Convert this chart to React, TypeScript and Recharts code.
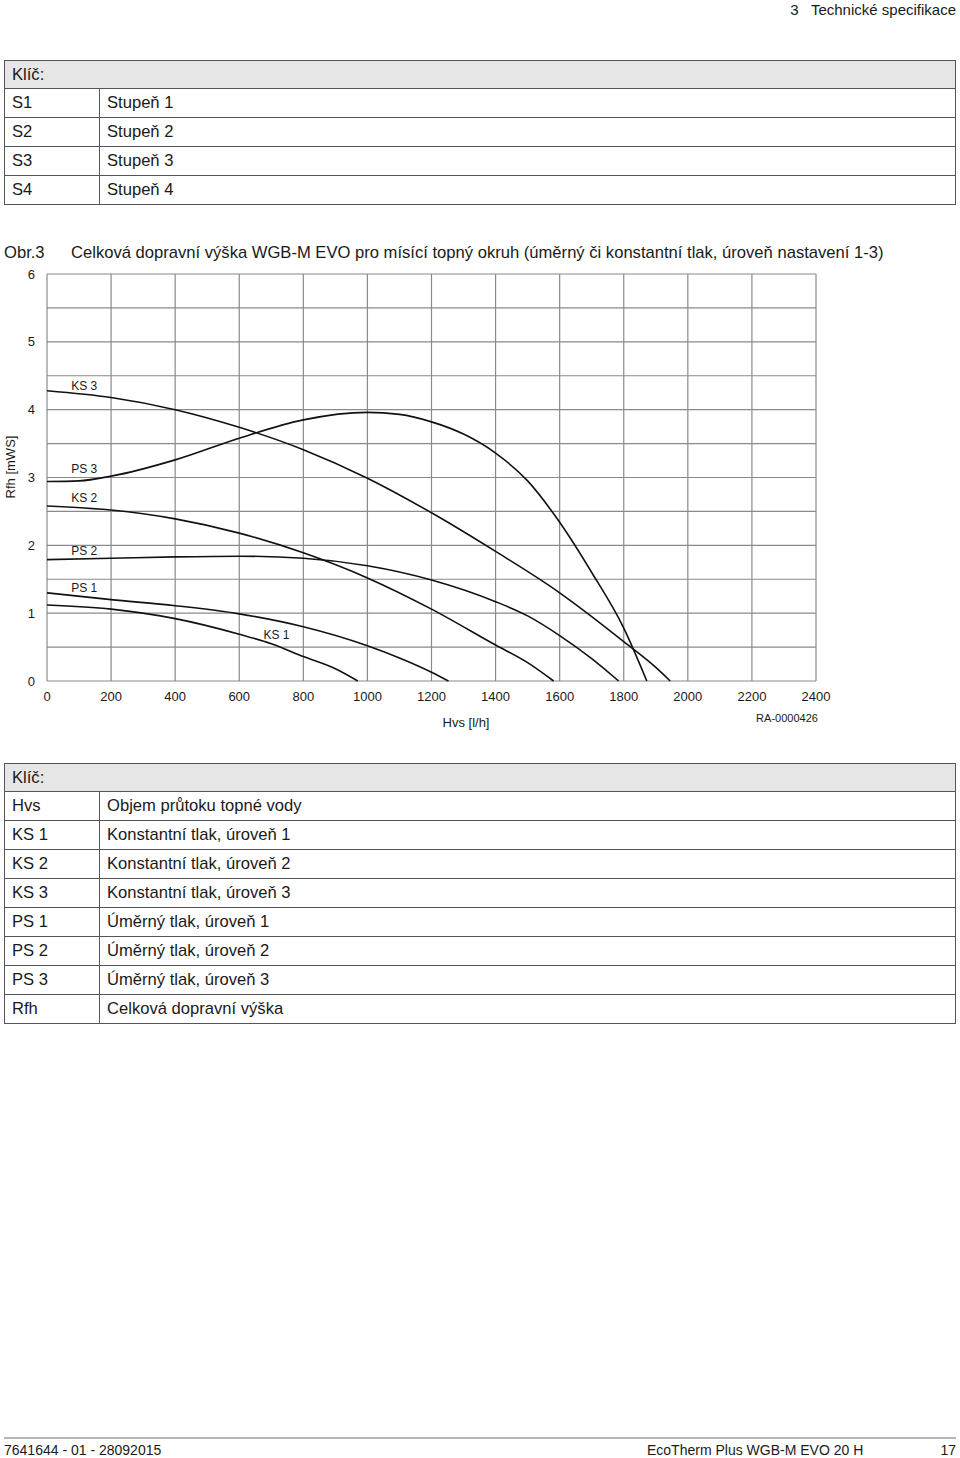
import { LineChart, Line, XAxis, YAxis, CartesianGrid, ReferenceDot } from "recharts";

// flow [l/h] and head [mWS]
const xTicks = [0, 200, 400, 600, 800, 1000, 1200, 1400, 1600, 1800, 2000, 2200, 2400];
const yTicks = [0, 0.5, 1, 1.5, 2, 2.5, 3, 3.5, 4, 4.5, 5, 5.5, 6];

const ks1Flow = [0, 200, 400, 600, 700, 800, 900, 970];
const ks1Head = [1.12, 1.06, 0.92, 0.69, 0.55, 0.36, 0.18, 0];

const ps1Flow = [0, 200, 400, 600, 800, 1000, 1100, 1200, 1253];
const ps1Head = [1.3, 1.2, 1.11, 0.99, 0.8, 0.52, 0.34, 0.13, 0];

const ks2Flow = [0, 200, 400, 600, 800, 1000, 1200, 1400, 1500, 1581];
const ks2Head = [2.58, 2.52, 2.39, 2.18, 1.89, 1.52, 1.06, 0.53, 0.27, 0];

const ps2Flow = [0, 200, 400, 600, 800, 1000, 1200, 1400, 1500, 1600, 1700, 1784];
const ps2Head = [1.79, 1.81, 1.83, 1.84, 1.81, 1.7, 1.49, 1.17, 0.96, 0.67, 0.33, 0];

const ks3Flow = [0, 200, 400, 600, 800, 1000, 1200, 1400, 1600, 1700, 1800, 1900, 1945];
const ks3Head = [4.28, 4.18, 4.0, 3.74, 3.41, 2.99, 2.48, 1.91, 1.3, 0.95, 0.58, 0.2, 0];

const ps3Flow = [0, 100, 200, 400, 600, 800, 1000, 1100, 1200, 1300, 1400, 1500, 1600, 1700, 1800, 1872];
const ps3Head = [2.94, 2.95, 3.02, 3.26, 3.58, 3.85, 3.96, 3.93, 3.82, 3.64, 3.36, 2.95, 2.34, 1.6, 0.78, 0];

const curveNames = ["KS 3", "PS 3", "KS 2", "PS 2", "PS 1", "KS 1"];
const labelFlow = [116, 116, 116, 116, 116, 716];
const labelHead = [4.36, 3.13, 2.7, 1.92, 1.38, 0.68];

const stageCodes = ["S1", "S2", "S3", "S4"];
const stageNames = ["Stupeň 1", "Stupeň 2", "Stupeň 3", "Stupeň 4"];

const keyCodes = ["Hvs", "KS 1", "KS 2", "KS 3", "PS 1", "PS 2", "PS 3", "Rfh"];
const keyNames = [
  "Objem průtoku topné vody",
  "Konstantní tlak, úroveň 1",
  "Konstantní tlak, úroveň 2",
  "Konstantní tlak, úroveň 3",
  "Úměrný tlak, úroveň 1",
  "Úměrný tlak, úroveň 2",
  "Úměrný tlak, úroveň 3",
  "Celková dopravní výška",
];

const toPoints = (flow: number[], head: number[]) => flow.map((x, i) => ({ x, y: head[i] }));

const series = [
  toPoints(ks1Flow, ks1Head),
  toPoints(ps1Flow, ps1Head),
  toPoints(ks2Flow, ks2Head),
  toPoints(ps2Flow, ps2Head),
  toPoints(ks3Flow, ks3Head),
  toPoints(ps3Flow, ps3Head),
];

const font = '"Liberation Sans", Arial, sans-serif';
const narrow = '"Liberation Sans Narrow", "Liberation Sans", Arial, sans-serif';
const textColor = "#1a1a1a";
const border = "#555";

const KeyTable = ({ top, codes, names }: { top: number; codes: string[]; names: string[] }) => (
  <div
    style={{
      position: "absolute",
      left: 4,
      top,
      width: 952,
      border: `1.5px solid ${border}`,
      boxSizing: "border-box",
      fontFamily: font,
      fontSize: 16.6,
      color: textColor,
    }}
  >
    <div
      style={{
        height: 27,
        background: "#e6e6e6",
        borderBottom: `1px solid ${border}`,
        display: "flex",
        alignItems: "center",
        paddingLeft: 7,
      }}
    >
      Klíč:
    </div>
    {codes.map((c, i) => (
      <div
        key={c}
        style={{
          height: 28,
          display: "flex",
          borderBottom: i < codes.length - 1 ? `1px solid ${border}` : "none",
        }}
      >
        <div
          style={{
            width: 95,
            boxSizing: "border-box",
            borderRight: `1px solid ${border}`,
            paddingLeft: 7,
            display: "flex",
            alignItems: "center",
          }}
        >
          {c}
        </div>
        <div style={{ paddingLeft: 7, display: "flex", alignItems: "center" }}>{names[i]}</div>
      </div>
    ))}
  </div>
);

const footText = { position: "absolute" as const, top: 1443, fontFamily: narrow, fontSize: 14, lineHeight: "14px", whiteSpace: "nowrap" as const };

const App = () => {
  return (
    <div style={{ position: "absolute", left: 0, top: 0, width: 960, height: 1458, background: "#fff", color: textColor, overflow: "hidden" }}>
      <div style={{ position: "absolute", right: 4, top: 1, fontFamily: narrow, fontSize: 15, lineHeight: "17px", whiteSpace: "pre" }}>
        {"3   Technické specifikace"}
      </div>

      <KeyTable top={60} codes={stageCodes} names={stageNames} />

      <div style={{ position: "absolute", left: 4, top: 243, fontFamily: font, fontSize: 16.6, lineHeight: "20px" }}>Obr.3</div>
      <div style={{ position: "absolute", left: 71, top: 243, fontFamily: font, fontSize: 16.6, lineHeight: "20px", whiteSpace: "nowrap" }}>
        Celková dopravní výška WGB-M EVO pro mísící topný okruh (úměrný či konstantní tlak, úroveň nastavení 1-3)
      </div>

      <div style={{ position: "absolute", left: 0, top: 230 }}>
        <LineChart width={960} height={520} margin={{ top: 44, right: 144, bottom: 39, left: 0 }}>
          <CartesianGrid stroke="#8a8a8a" strokeWidth={1.2} />
          <XAxis
            type="number"
            dataKey="x"
            domain={[0, 2400]}
            ticks={xTicks}
            interval={0}
            axisLine={false}
            tickLine={false}
            tickMargin={5}
            height={30}
            tick={{ fill: textColor, fontSize: 13, fontFamily: font }}
          />
          <YAxis
            type="number"
            dataKey="y"
            domain={[0, 6]}
            ticks={yTicks}
            interval={0}
            width={47}
            axisLine={false}
            tickLine={false}
            tickMargin={6}
            tickFormatter={(v: number) => (Number.isInteger(v) ? String(v) : "")}
            tick={{ fill: textColor, fontSize: 13, fontFamily: font }}
          />
          {series.map((d, i) => (
            <Line
              key={i}
              data={d}
              dataKey="y"
              type="monotone"
              stroke="#111"
              strokeWidth={1.6}
              dot={false}
              activeDot={false}
              isAnimationActive={false}
            />
          ))}
          {curveNames.map((n, i) => (
            <ReferenceDot
              key={n}
              x={labelFlow[i]}
              y={labelHead[i]}
              r={1}
              fill="none"
              stroke="none"
              label={{ value: n, position: "center", fontSize: 12, fill: textColor, fontFamily: font }}
            />
          ))}
        </LineChart>
      </div>

      <div
        style={{
          position: "absolute",
          left: 10,
          top: 467,
          transform: "translate(-50%, -50%) rotate(-90deg)",
          fontFamily: font,
          fontSize: 13,
          whiteSpace: "nowrap",
        }}
      >
        Rfh [mWS]
      </div>
      <div style={{ position: "absolute", left: 466, top: 722, transform: "translate(-50%, -50%)", fontFamily: font, fontSize: 13, whiteSpace: "nowrap" }}>
        Hvs [l/h]
      </div>
      <div style={{ position: "absolute", left: 787, top: 718, transform: "translate(-50%, -50%)", fontFamily: font, fontSize: 11, whiteSpace: "nowrap" }}>
        RA-0000426
      </div>

      <KeyTable top={763} codes={keyCodes} names={keyNames} />

      <div style={{ position: "absolute", left: 4, top: 1437, width: 952, height: 2, background: "#b5b5b5" }} />
      <div style={{ ...footText, left: 4 }}>7641644 - 01 - 28092015</div>
      <div style={{ ...footText, left: 647 }}>EcoTherm Plus WGB-M EVO 20 H</div>
      <div style={{ ...footText, right: 4 }}>17</div>
    </div>
  );
};

export default App;
